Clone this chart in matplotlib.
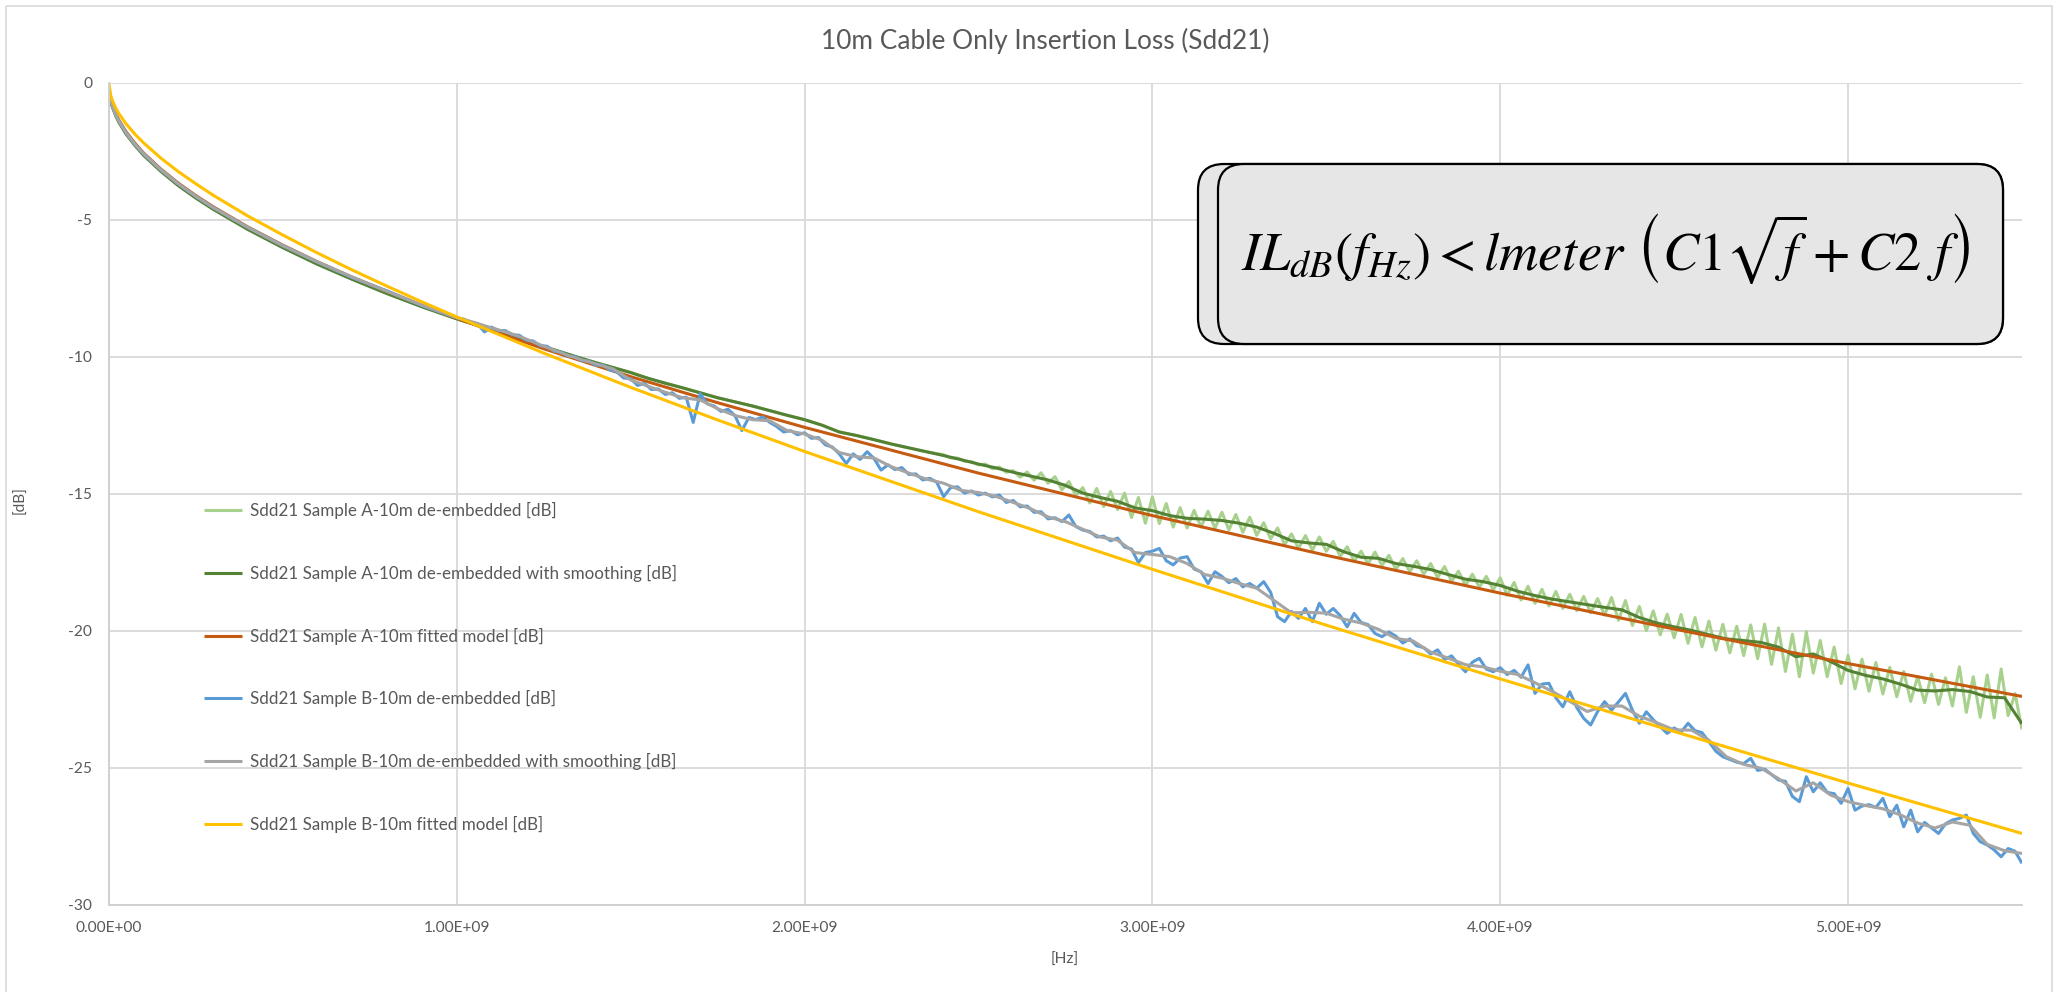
import numpy as np
import matplotlib
matplotlib.use('Agg')
import matplotlib.pyplot as plt
from matplotlib.patches import FancyBboxPatch, Rectangle
from matplotlib.ticker import FuncFormatter, MultipleLocator

plt.rcParams['font.family'] = ['Lato', 'DejaVu Sans']
plt.rcParams['axes.unicode_minus'] = False
plt.rcParams['mathtext.fontset'] = 'stix'

# ---------------- data (frequency in GHz, insertion loss in dB) ----------------

f_lo = [0.0, 0.005, 0.01, 0.02, 0.03, 0.05, 0.075, 0.1, 0.15, 0.2, 0.25, 0.3,
        0.4, 0.5, 0.6, 0.7, 0.8, 0.9]

# fitted models
f_model_hi = [1.0, 1.25, 1.5, 1.75, 2.0, 2.5, 3.0, 3.5, 4.0, 4.5, 5.0, 5.5]
fit_a = [-0.20, -0.56, -0.80, -1.13, -1.39, -1.80, -2.21, -2.57, -3.16, -3.67, -4.12, -4.53,
         -5.27, -5.93, -6.54, -7.10, -7.62, -8.12,
         -8.60, -9.71, -10.73, -11.68, -12.58, -14.25, -15.80, -17.25, -18.63, -19.94, -21.20, -22.40]
fit_b = [0.0, -0.45, -0.65, -0.93, -1.15, -1.51, -1.88, -2.20, -2.76, -3.25, -3.69, -4.11,
         -4.87, -5.56, -6.22, -6.84, -7.43, -8.00,
         -8.55, -9.87, -11.12, -12.31, -13.46, -15.66, -17.76, -19.80, -21.76, -23.68, -25.56, -27.40]

# smoothed measurements, 50 MHz steps above 1 GHz
f_smooth_hi = np.round(np.arange(1.0, 5.5001, 0.05), 2)
smooth_a = [-0.25, -0.62, -0.88, -1.21, -1.47, -1.88, -2.29, -2.65, -3.24, -3.76, -4.21, -4.62,
            -5.36, -6.02, -6.63, -7.18, -7.70, -8.18,
            -8.62, -8.82, -9.05, -9.25, -9.44, -9.63, -9.83, -10.03, -10.22, -10.40,
            -10.58, -10.79, -10.97, -11.14, -11.32, -11.50, -11.65, -11.80, -11.97, -12.14,
            -12.30, -12.50, -12.75, -12.88, -13.03, -13.19, -13.33, -13.47, -13.61, -13.76,
            -13.92, -14.06, -14.22, -14.36, -14.50, -14.70, -14.98, -15.14, -15.28, -15.52,
            -15.62, -15.80, -15.90, -15.93, -15.98, -16.08, -16.22, -16.45, -16.72, -16.80,
            -16.85, -17.12, -17.32, -17.36, -17.55, -17.65, -17.77, -17.95, -18.12, -18.21,
            -18.35, -18.56, -18.72, -18.85, -18.95, -19.05, -19.15, -19.24, -19.52, -19.72,
            -19.86, -19.99, -20.15, -20.30, -20.36, -20.43, -20.60, -20.95, -20.85, -21.13,
            -21.45, -21.63, -21.76, -21.95, -22.17, -22.20, -22.15, -22.22, -22.42, -22.45,
            -23.40]
smooth_b = [-0.22, -0.60, -0.85, -1.17, -1.43, -1.84, -2.25, -2.60, -3.19, -3.70, -4.15, -4.56,
            -5.29, -5.95, -6.55, -7.10, -7.62, -8.12,
            -8.58, -8.75, -8.95, -9.13, -9.36, -9.62, -9.86, -10.08, -10.26, -10.45,
            -10.85, -11.08, -11.30, -11.50, -11.58, -11.90, -12.15, -12.30, -12.34, -12.70,
            -12.82, -13.05, -13.50, -13.65, -13.70, -14.02, -14.25, -14.47, -14.62, -14.88,
            -14.96, -15.10, -15.32, -15.55, -15.85, -16.02, -16.30, -16.58, -16.70, -17.15,
            -17.22, -17.30, -17.55, -17.95, -18.08, -18.28, -18.45, -18.90, -19.35, -19.33,
            -19.36, -19.58, -19.72, -19.95, -20.28, -20.38, -20.78, -21.00, -21.24, -21.32,
            -21.48, -21.60, -21.90, -22.22, -22.58, -22.95, -22.75, -22.75, -23.12, -23.36,
            -23.62, -23.63, -24.00, -24.60, -24.88, -25.02, -25.40, -25.85, -25.55, -26.00,
            -26.24, -26.38, -26.50, -26.72, -27.02, -27.20, -26.98, -27.10, -27.80, -28.03,
            -28.13]

# raw sample A above 2.4 GHz, 20 MHz steps (below it the trace sits under the smoothed one)
f_raw_a_hi = np.round(np.arange(2.40, 5.5001, 0.02), 2)
raw_a_hi = [-13.58, -13.70, -13.70, -13.82, -13.83, -13.95, -13.92, -14.09, -14.03, -14.22,
            -14.16, -14.40, -14.21, -14.51, -14.24, -14.62, -14.38, -14.86, -14.56, -15.07,
            -14.78, -15.34, -14.81, -15.47, -14.92, -15.58, -14.98, -15.87, -15.14, -16.08,
            -15.12, -16.09, -15.36, -16.22, -15.51, -16.25, -15.61, -16.22, -15.64, -16.26,
            -15.68, -16.32, -15.76, -16.41, -15.86, -16.52, -16.06, -16.65, -16.25, -16.86,
            -16.47, -17.00, -16.53, -17.06, -16.58, -17.10, -16.74, -17.29, -16.94, -17.46,
            -17.10, -17.56, -17.13, -17.62, -17.25, -17.77, -17.37, -17.85, -17.45, -17.94,
            -17.55, -18.06, -17.66, -18.20, -17.83, -18.34, -17.94, -18.41, -18.02, -18.51,
            -18.07, -18.71, -18.24, -18.88, -18.38, -19.00, -18.49, -19.10, -18.57, -19.19,
            -18.67, -19.27, -18.75, -19.35, -18.83, -19.43, -18.79, -19.62, -18.90, -19.81,
            -19.12, -20.00, -19.28, -20.15, -19.40, -20.26, -19.41, -20.46, -19.52, -20.59,
            -19.65, -20.71, -19.77, -20.81, -19.84, -20.91, -19.79, -21.02, -19.76, -21.23,
            -19.90, -21.49, -20.13, -21.68, -20.04, -21.55, -20.36, -21.68, -20.60, -21.93,
            -20.90, -22.12, -21.04, -22.21, -21.16, -22.31, -21.34, -22.41, -21.49, -22.58,
            -21.67, -22.63, -21.59, -22.69, -21.72, -22.75, -21.32, -22.98, -21.68, -23.16,
            -21.62, -23.18, -21.40, -23.10, -22.30, -23.60]

# raw sample B, 20 MHz steps above 1 GHz
f_raw_b_hi = np.round(np.arange(1.0, 5.5001, 0.02), 2)
raw_b = [-0.22, -0.60, -0.85, -1.17, -1.43, -1.84, -2.25, -2.60, -3.19, -3.70, -4.15, -4.56,
         -5.29, -5.95, -6.55, -7.12, -7.60, -8.14,
         -8.58, -8.63, -8.74, -8.80, -9.10, -8.92, -9.05, -9.05, -9.20, -9.22,
         -9.40, -9.43, -9.60, -9.62, -9.80, -9.83, -9.98, -10.00, -10.15, -10.16,
         -10.32, -10.30, -10.48, -10.55, -10.78, -10.80, -11.05, -10.98, -11.20, -11.18,
         -11.38, -11.32, -11.52, -11.48, -12.40, -11.35, -11.72, -11.80, -12.00, -11.92,
         -12.15, -12.70, -12.22, -12.30, -12.20, -12.40, -12.55, -12.75, -12.70, -12.85,
         -12.78, -12.98, -12.95, -13.22, -13.30, -13.55, -13.90, -13.55, -13.75, -13.47,
         -13.72, -14.14, -13.95, -14.12, -14.05, -14.30, -14.28, -14.50, -14.44, -14.58,
         -15.11, -14.78, -14.75, -14.98, -14.90, -15.05, -14.98, -15.12, -15.05, -15.32,
         -15.25, -15.48, -15.45, -15.68, -15.66, -15.92, -15.88, -16.02, -15.78, -16.20,
         -16.33, -16.38, -16.58, -16.55, -16.72, -16.62, -16.95, -17.02, -17.52, -17.15,
         -17.10, -17.00, -17.45, -17.60, -17.35, -17.30, -17.75, -17.85, -18.28, -17.85,
         -18.02, -18.25, -18.10, -18.40, -18.28, -18.45, -18.21, -18.60, -19.49, -19.67,
         -19.30, -19.55, -19.19, -19.67, -19.00, -19.40, -19.19, -19.45, -19.86, -19.37,
         -19.70, -19.78, -20.10, -20.22, -20.05, -20.20, -20.45, -20.30, -20.55, -20.62,
         -20.85, -20.70, -21.05, -20.92, -21.22, -21.50, -21.15, -21.01, -21.40, -21.50,
         -21.35, -21.60, -21.45, -21.70, -21.25, -22.29, -21.95, -21.92, -22.45, -22.78,
         -22.23, -22.80, -23.20, -23.44, -22.95, -22.59, -22.90, -22.60, -22.29, -22.90,
         -23.38, -22.96, -23.25, -23.50, -23.75, -23.55, -23.70, -23.38, -23.65, -23.72,
         -24.05, -24.40, -24.60, -24.70, -24.80, -24.85, -24.66, -25.10, -25.05, -25.25,
         -25.45, -25.50, -26.05, -26.24, -25.33, -25.88, -25.55, -25.90, -25.95, -26.30,
         -25.76, -26.55, -26.40, -26.35, -26.45, -26.12, -26.79, -26.37, -27.16, -26.55,
         -27.34, -27.00, -27.20, -27.40, -27.05, -26.91, -26.85, -26.73, -27.40, -27.70,
         -27.82, -28.00, -28.25, -27.95, -28.05, -28.49]

labels = ['Sdd21 Sample A-10m de-embedded [dB]',
          'Sdd21 Sample A-10m de-embedded with smoothing [dB]',
          'Sdd21 Sample A-10m fitted model [dB]',
          'Sdd21 Sample B-10m de-embedded [dB]',
          'Sdd21 Sample B-10m de-embedded with smoothing [dB]',
          'Sdd21 Sample B-10m fitted model [dB]']
colors = ['#A9D18E', '#548235', '#C55A11', '#5B9BD5', '#A5A5A5', '#FFC000']

# ---------------- assemble series (Hz) ----------------
f_model = np.array(f_lo + f_model_hi) * 1e9
f_smooth = np.concatenate([f_lo, f_smooth_hi]) * 1e9
n_a = len(f_lo) + int(np.sum(f_smooth_hi < 2.39))
f_raw_a = np.concatenate([f_smooth[:n_a] / 1e9, f_raw_a_hi]) * 1e9
raw_a = smooth_a[:n_a] + raw_a_hi
f_raw_b = np.concatenate([f_lo, f_raw_b_hi]) * 1e9

series = [(f_raw_a, raw_a), (f_smooth, smooth_a), (f_model, fit_a),
          (f_raw_b, raw_b), (f_smooth, smooth_b), (f_model, fit_b)]

# ---------------- figure ----------------
W, H = 2056, 992
fig = plt.figure(figsize=(W / 100, H / 100), dpi=100)
x0, x1, y0, y1 = 108.8, 2022, 82.6, 904.7
ax = fig.add_axes([x0 / W, 1 - y1 / H, (x1 - x0) / W, (y1 - y0) / H])

lines = []
for (x, y), lab, c in zip(series, labels, colors):
    ln, = ax.plot(x, y, color=c, lw=2.2, label=lab, solid_capstyle='butt')
    lines.append(ln)

ax.set_xlim(0, 5.5e9)
ax.set_ylim(-30, 0)
ax.xaxis.set_major_locator(MultipleLocator(1e9))
ax.yaxis.set_major_locator(MultipleLocator(5))
ax.xaxis.set_major_formatter(FuncFormatter(lambda v, p: f'{v:.2E}'))
ax.yaxis.set_major_formatter(FuncFormatter(lambda v, p: f'{v:.0f}'))
ax.grid(True, color='#D9D9D9', lw=1.3)
ax.set_axisbelow(True)
for s in ['top', 'right']:
    ax.spines[s].set_visible(False)
for s in ['left', 'bottom']:
    ax.spines[s].set_color('#D0D0D0')
    ax.spines[s].set_linewidth(1.4)
ax.tick_params(length=0, colors='#595959', labelsize=11.2)
ax.tick_params(axis='y', pad=12)
ax.tick_params(axis='x', pad=12)

txt_col = '#595959'
title = fig.text(1045 / W, 1 - 40.6 / H, '10m Cable Only Insertion Loss (Sdd21)',
                 ha='center', va='center', color=txt_col, fontsize=18)
fig.text(1065 / W, 1 - 960 / H, '[Hz]', ha='center', va='center', color=txt_col, fontsize=11.2)
fig.text(20 / W, 1 - 500 / H, '[dB]', ha='center', va='center', rotation=90,
         color=txt_col, fontsize=11.2)


def make_legend(fs, spacing):
    return ax.legend(handles=lines, loc='center left', frameon=False,
                     bbox_to_anchor=(204 / W, 1 - 667.5 / H), bbox_transform=fig.transFigure,
                     fontsize=fs, labelspacing=spacing, borderpad=0, borderaxespad=0,
                     handlelength=38 / (fs * 100 / 72), handletextpad=8 / (fs * 100 / 72),
                     labelcolor=txt_col)


# overlay in pixel units for the chart border and the formula box
ov = fig.add_axes([0, 0, 1, 1], zorder=5)
ov.set_xlim(0, W)
ov.set_ylim(H, 0)
ov.axis('off')
ov.add_patch(Rectangle((6, 6), 2046, 990, fill=False, ec='#D9D9D9', lw=1.2))
for bx in [1198, 1218]:
    ov.add_patch(FancyBboxPatch((bx, 164), 2003 - bx, 180,
                                boxstyle='round,pad=0,rounding_size=26',
                                fc='#E7E6E6', ec='black', lw=1.6))
formula = ov.text(1606, 249, r'$IL_{dB}(f_{Hz}) < lmeter\ \left(C1\sqrt{f} + C2\ f\right)$',
                  ha='center', va='center', color='black', fontsize=36)

# size texts to the widths measured on the reference
fig.canvas.draw()
r = fig.canvas.get_renderer()
for t, target in [(title, 447), (formula, 729)]:
    w = t.get_window_extent(r).width
    t.set_fontsize(t.get_fontsize() * target / w)

leg = make_legend(12, 2.5)
fig.canvas.draw()
w = leg.get_texts()[0].get_window_extent(r).width
fs = 12 * 306 / w
leg.remove()
leg = make_legend(fs, 2.5)
fig.canvas.draw()
h = leg.get_texts()[0].get_window_extent(r).height
leg.remove()
leg = make_legend(fs, (62.7 - h) / (fs * 100 / 72))

fig.savefig('out.png', dpi=100)
